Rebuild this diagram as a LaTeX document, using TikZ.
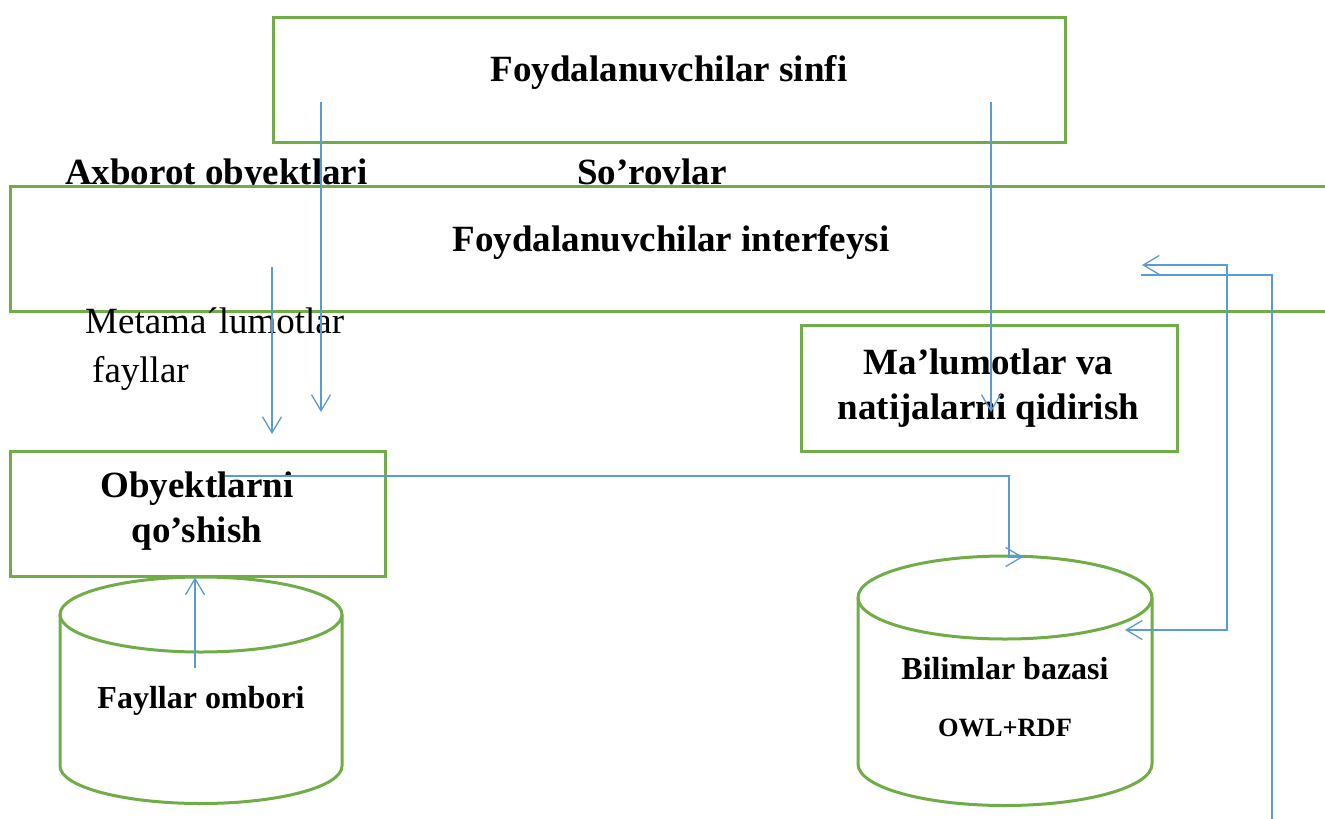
\documentclass[tikz,border=0pt]{standalone}
\usepackage{fontspec}
\setmainfont{Liberation Serif}
\usetikzlibrary{arrows.meta}
\definecolor{boxgreen}{RGB}{112,173,71}
\definecolor{linkblue}{RGB}{91,155,213}
\begin{document}
\begin{tikzpicture}[x=1pt,y=-1pt,
  gbox/.style={draw=boxgreen, line width=3pt, fill=white, inner sep=0pt},
  gline/.style={draw=boxgreen, line width=3pt},
  bigb/.style={font=\bfseries\fontsize{37}{45}\selectfont, inner sep=0pt},
  bigr/.style={font=\fontsize{37}{45}\selectfont, inner sep=0pt},
  midb/.style={font=\bfseries\fontsize{32}{38}\selectfont, inner sep=0pt},
  smallb/.style={font=\bfseries\fontsize{26.4}{32}\selectfont, inner sep=0pt},
  conn/.style={draw=linkblue, line width=1.3pt},
  tip/.tip={Straight Barb[length=16pt, width=19pt]}
]
\useasboundingbox (0,0) rectangle (1325,819);
\clip (0,0) rectangle (1325,819);

% labels above the interface box (partly covered by it)
\node[bigb, anchor=base west] (axborot) at (65,184) {Axborot obyektlari};
\node[bigb, anchor=base west] (sorov) at (577,184) {So’rovlar};

% boxes
\node[gbox, minimum width=792pt, minimum height=125pt] (sinfi) at (669,79.5) {};
\node[gbox, minimum width=1330pt, minimum height=125pt] (interf) at (675,248.5) {};
\node[gbox, minimum width=376pt, minimum height=126pt] (qidir) at (989,388) {};

% labels below the interface box
\node[bigr, anchor=base west] (meta) at (85,333) {Metama´lumotlar};
\node[bigr, anchor=base west] (metaB) at (92,382) {fayllar};

% cylinders
\draw[gline, fill=white] (60,766) -- (60,614.5)
  arc[start angle=180, end angle=0, x radius=141pt, y radius=37.5pt] -- (342,766)
  arc[start angle=0, end angle=-180, x radius=141pt, y radius=37.5pt] -- cycle;
\draw[gline] (60,614.5) arc[start angle=180, end angle=360, x radius=141pt, y radius=37.5pt];
\draw[gline, fill=white] (858,764) -- (858,597.5)
  arc[start angle=180, end angle=0, x radius=147pt, y radius=41.5pt] -- (1152,764)
  arc[start angle=0, end angle=-180, x radius=147pt, y radius=41.5pt] -- cycle;
\draw[gline] (858,597.5) arc[start angle=180, end angle=360, x radius=147pt, y radius=41.5pt];

\node[gbox, minimum width=375pt, minimum height=125pt] (obj) at (197.5,513.5) {};

% box texts
\node[bigb, anchor=base] (sinfiT) at (669,81) {Foydalanuvchilar sinfi};
\node[bigb, anchor=base] (interfT) at (671,251) {Foydalanuvchilar interfeysi};
\node[bigb, align=center] (qidirT) at (988.5,388) {Ma’lumotlar va\\natijalarni qidirish};
\node[bigb, align=center] (objT) at (197,511) {Obyektlarni\\qo’shish};
\node[midb, anchor=base] (fayT) at (201,708) {Fayllar ombori};
\node[midb, anchor=base] (bilT) at (1005,679) {Bilimlar bazasi};
\node[smallb, anchor=base] (owlT) at (1005,736) {OWL+RDF};

% connector end points
\coordinate (a1s) at (272,267);  \coordinate (a1e) at (272,434);
\coordinate (a2s) at (321,102);  \coordinate (a2e) at (321,412);
\coordinate (a3s) at (991,102);  \coordinate (a3e) at (991,412);
\coordinate (a4s) at (195,668);
\coordinate (a5s) at (225,476);  \coordinate (a5k) at (1009,557); \coordinate (a5e) at (1023,557);
\coordinate (a6s) at (1142,265); \coordinate (a6k) at (1227,630); \coordinate (a6e) at (1125,630);
\coordinate (a7s) at (1141,275); \coordinate (a7e) at (1272,830);

% connectors
\draw[conn, -tip] (a1s) -- (a1e);
\draw[conn, -tip] (a2s) -- (a2e);
\draw[conn, -tip] (a3s) -- (a3e);
\draw[conn, -tip] (a4s) -- (a4s |- obj.south);
\draw[conn, -tip] (a5s) -| (a5k) -- (a5e);
\draw[conn, tip-tip] (a6s) -| (a6k) -- (a6e);
\draw[conn] (a7s) -| (a7e);
\end{tikzpicture}
\end{document}
